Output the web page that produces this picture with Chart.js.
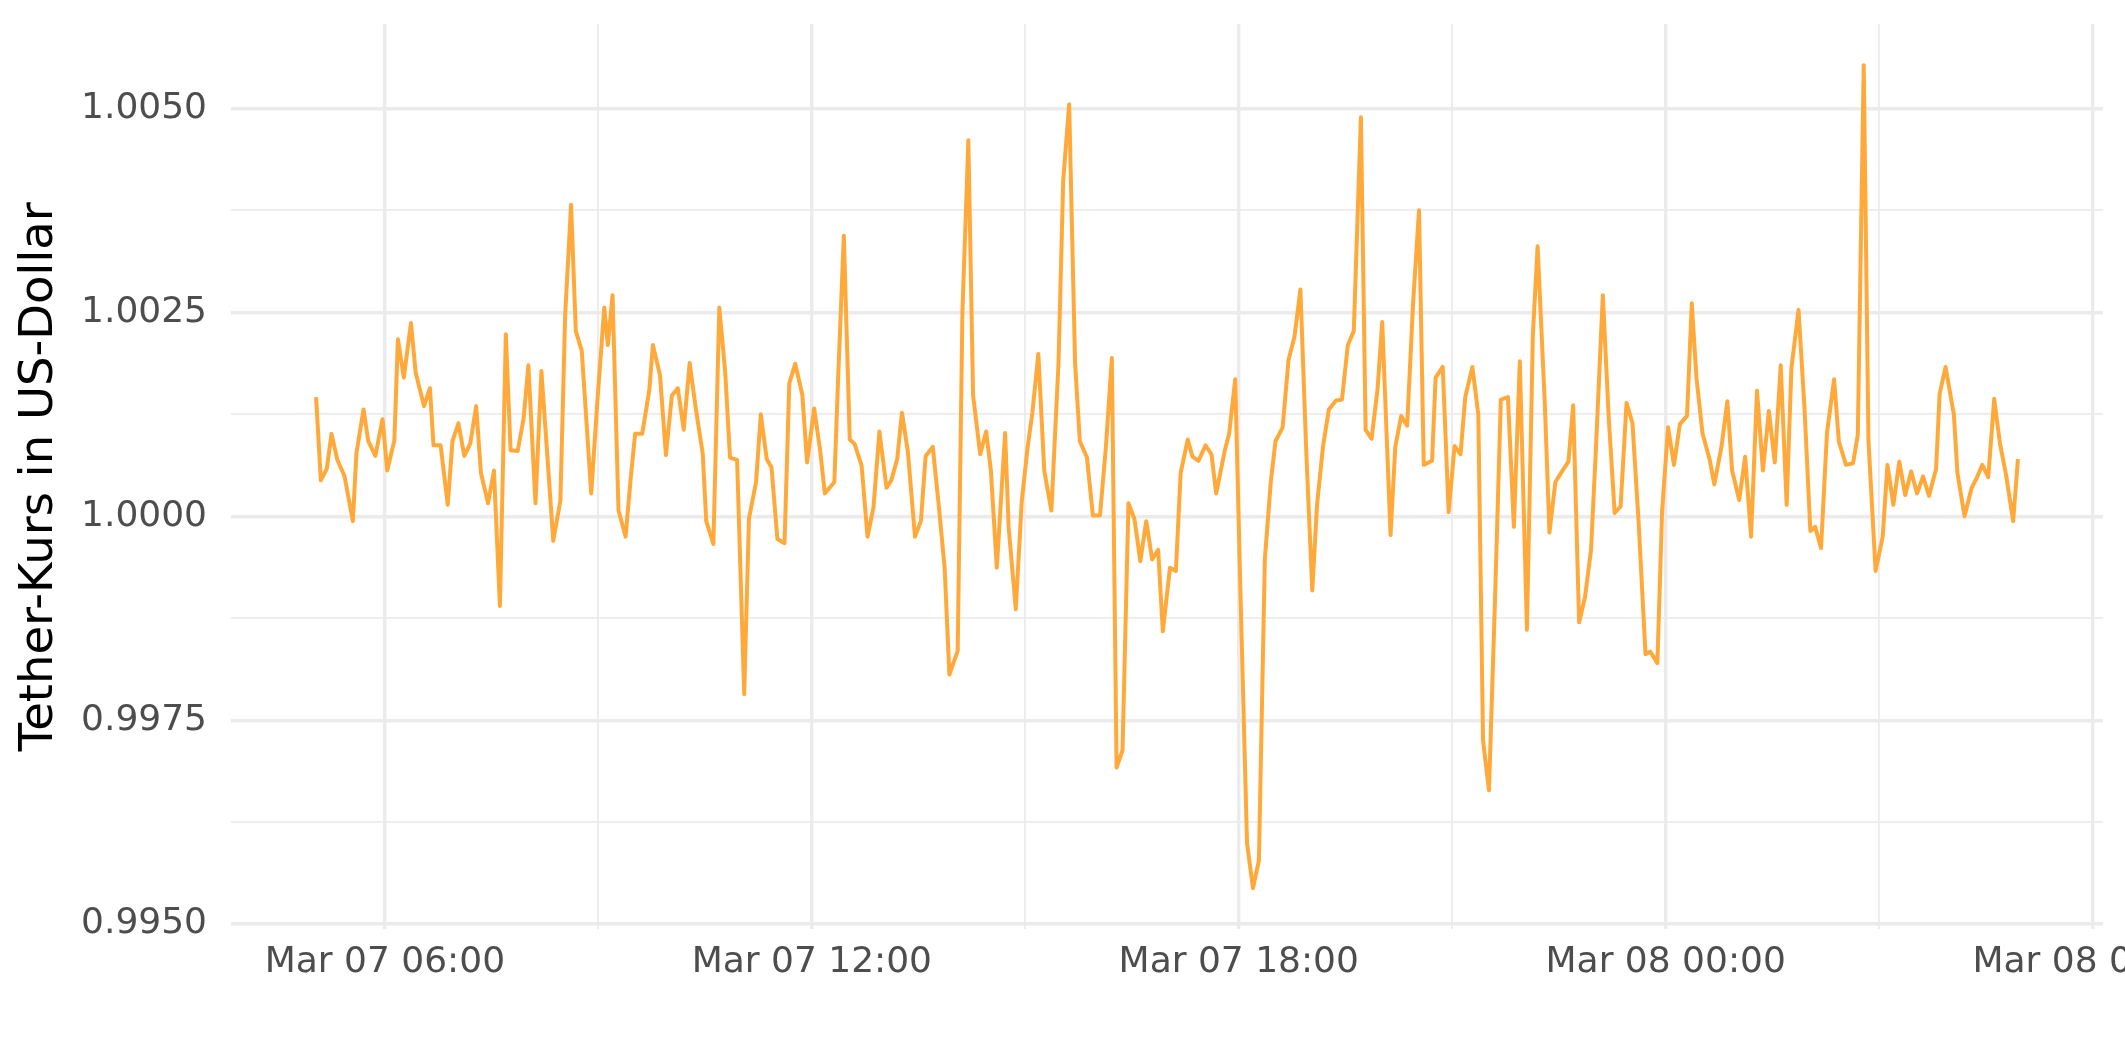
<!DOCTYPE html>
<html><head><meta charset="utf-8">
<script src="https://cdn.jsdelivr.net/npm/chart.js@4.4.1/dist/chart.umd.min.js"></script>
<style>html,body{margin:0;padding:0;background:#fff;overflow:hidden}
#wrap{width:2125px;height:1062px;position:relative;background:#fff}</style></head>
<body><div id="wrap"><canvas id="c" width="2125" height="1062"></canvas></div>
<script>
// minutes after Mar 07 06:00
const minutesSinceStart = [
-58,-54,-49,-45,-40,-34,-27,-24,-18,-14,-8,-2,2,8,11,16,22,26,33,38,41,47,53,57,62,67,72,77,81,87,92,97,102,106,112,117,
121,127,132,142,148,152,157,161,166,174,179,185,188,192,197,203,207,211,217,223,226,232,237,242,247,252,257,262,268,271,277,282,287,291,297,
303,307,313,317,322,326,331,337,341,346,352,356,362,367,371,375,379,382,387,392,396,402,407,412,417,423,427,432,436,441,447,452,456,462,467,472,476,
483,487,492,496,502,507,511,516,523,526,532,537,542,546,551,556,562,568,572,577,582,586,592,597,603,608,613,617,622,627,632,637,642,647,652,656,662,
667,671,677,681,686,692,697,701,708,712,717,722,727,732,737,742,747,751,757,762,767,772,777,782,786,791,796,802,807,812,817,823,827,832,837,841,
848,852,857,862,867,872,876,883,886,892,897,902,907,911,917,922,926,931,936,941,947,952,957,963,968,972,978,982,987,993,998,1002,1007,1012,1017,1021,
1027,1032,1037,1042,1047,1052,1057,1063,1067,1073,1077,1082,1087,1092,1098,1102,1106,1111,1117,1121,1127,1132,1136,1142,1147,1152,1157,1162,1167,1172,1177,1182,1186,1192,1197,1202,
1206,1211,1216,1222,1226,1232,1238,1242,1247,1251,1257,1263,1267,1272,1277,1282,1287,1292,1297,1302,1308,1311,1316,1323,1326,1332,1338,1342,1347,1352,1357,1362,1367,1373,1377
];
const tetherPrice = [
1.00146,1.00044,1.00058,1.00101,1.00069,1.00049,0.99994,1.00077,1.00131,1.00092,1.00074,1.00119,1.00056,1.00093,1.00217,1.00170,1.00237,1.00176,1.00135,1.00157,1.00087,1.00087,1.00014,1.00092,1.00114,1.00074,1.00089,1.00135,1.00053,1.00016,1.00056,0.99890,1.00223,1.00081,1.00080,1.00120,
1.00185,1.00016,1.00178,0.99970,1.00019,1.00246,1.00382,1.00227,1.00203,1.00028,1.00137,1.00256,1.00210,1.00271,1.00007,0.99975,1.00042,1.00101,1.00101,1.00155,1.00210,1.00173,1.00075,1.00148,1.00157,1.00106,1.00188,1.00134,1.00077,0.99994,0.99966,1.00256,1.00176,1.00072,1.00069,
0.99782,0.99997,1.00042,1.00125,1.00070,1.00060,0.99972,0.99967,1.00163,1.00187,1.00149,1.00066,1.00132,1.00081,1.00028,1.00035,1.00042,1.00162,1.00344,1.00094,1.00089,1.00062,0.99975,1.00011,1.00104,1.00035,1.00044,1.00070,1.00127,1.00079,0.99975,0.99994,1.00074,1.00085,1.00014,0.99937,0.99806,
0.99835,1.00250,1.00461,1.00148,1.00076,1.00104,1.00056,0.99937,1.00102,0.99986,0.99886,1.00018,1.00085,1.00127,1.00199,1.00056,1.00007,1.00187,1.00412,1.00505,1.00187,1.00092,1.00072,1.00001,1.00001,1.00085,1.00194,0.99692,0.99713,1.00016,0.99997,0.99945,0.99994,0.99947,0.99959,0.99859,0.99937,
0.99933,1.00053,1.00094,1.00073,1.00068,1.00087,1.00076,1.00028,1.00079,1.00102,1.00168,0.99875,0.99599,0.99544,0.99578,0.99947,1.00042,1.00092,1.00109,1.00192,1.00220,1.00278,1.00077,0.99909,1.00014,1.00085,1.00131,1.00142,1.00143,1.00210,1.00227,1.00489,1.00106,1.00095,1.00155,1.00238,
0.99977,1.00085,1.00123,1.00111,1.00261,1.00375,1.00063,1.00068,1.00170,1.00183,1.00005,1.00086,1.00076,1.00146,1.00183,1.00125,0.99725,0.99664,0.99894,1.00143,1.00146,0.99987,1.00190,0.99861,1.00222,1.00331,1.00141,0.99980,1.00042,1.00056,1.00067,1.00136,0.99870,0.99901,0.99958,1.00077,
1.00271,1.00120,1.00004,1.00012,1.00139,1.00114,0.99997,0.99831,0.99834,0.99820,1.00007,1.00109,1.00063,1.00113,1.00123,1.00261,1.00169,1.00102,1.00070,1.00039,1.00085,1.00141,1.00056,1.00020,1.00073,0.99975,1.00154,1.00056,1.00129,1.00066,1.00185,1.00014,1.00181,1.00253,1.00134,0.99982,
0.99987,0.99961,1.00102,1.00168,1.00092,1.00063,1.00065,1.00100,1.00553,1.00092,0.99933,0.99975,1.00063,1.00014,1.00067,1.00026,1.00055,1.00028,1.00049,1.00025,1.00058,1.00150,1.00183,1.00125,1.00053,1.00000,1.00035,1.00046,1.00063,1.00048,1.00144,1.00088,1.00051,0.99994,1.00070
];
const xMajorTicks = [0, 360, 720, 1080, 1440];
const xTickLabels = ['Mar 07 06:00', 'Mar 07 12:00', 'Mar 07 18:00', 'Mar 08 00:00', 'Mar 08 06:00'];
const xMinorTicks = [180, 540, 900, 1260];
const yMajorTicks = [0.995, 0.9975, 1.0, 1.0025, 1.005];
const yTickLabels = ['0.9950', '0.9975', '1.0000', '1.0025', '1.0050'];
const yMinorTicks = [0.99625, 0.99875, 1.00125, 1.00375];
const yTitle = 'Tether-Kurs in US-Dollar';

const points = minutesSinceStart.map((m, i) => ({x: m, y: tetherPrice[i]}));
const xmin0 = Math.min(...minutesSinceStart), xmax0 = Math.max(...minutesSinceStart);
const ymin0 = Math.min(...tetherPrice), ymax0 = Math.max(...tetherPrice);
const xr = xmax0 - xmin0, yr = ymax0 - ymin0;

const near = (a, b) => Math.abs(a - b) < 1e-9;
function buildTicks(major, minor) {
  return [...major.map(v => ({value: v, major: true})), ...minor.map(v => ({value: v, major: false}))]
    .sort((a, b) => a.value - b.value);
}
const GRID = '#EBEBEB';
const FONT = 'DejaVu Sans';
Chart.defaults.font.family = FONT;

new Chart(document.getElementById('c'), {
  type: 'line',
  data: { datasets: [{
    data: points,
    borderColor: '#FFA93A',
    borderWidth: 4,
    pointRadius: 0,
    fill: false,
    tension: 0,
    borderJoinStyle: 'round'
  }]},
  options: {
    responsive: false,
    animation: false,
    devicePixelRatio: 1,
    layout: { padding: { left: 12, right: 22, top: 24, bottom: 0 } },
    plugins: { legend: { display: false }, tooltip: { enabled: false } },
    scales: {
      x: {
        type: 'linear',
        min: xmin0 - 0.05 * xr,
        max: xmax0 + 0.05 * xr,
        afterBuildTicks: s => { s.ticks = buildTicks(xMajorTicks, xMinorTicks); },
        afterFit: s => { s.paddingRight = 0; s.paddingLeft = 0; s.height = 132.6; },
        border: { display: false },
        grid: {
          color: GRID, drawTicks: false,
          lineWidth: ctx => (ctx.tick && ctx.tick.major) ? 3.4 : 1.8
        },
        ticks: {
          autoSkip: false, maxRotation: 0, minRotation: 0, padding: 12,
          color: '#4D4D4D', font: { size: 36, family: FONT },
          callback: (v) => { const i = xMajorTicks.findIndex(t => near(t, v)); return i >= 0 ? xTickLabels[i] : ''; }
        }
      },
      y: {
        type: 'linear',
        min: ymin0 - 0.05 * yr,
        max: ymax0 + 0.05 * yr,
        afterBuildTicks: s => { s.ticks = buildTicks(yMajorTicks, yMinorTicks); },
        afterFit: s => { s.width = 219; s.paddingTop = 0; s.paddingBottom = 0; },
        border: { display: false },
        grid: {
          color: GRID, drawTicks: false,
          lineWidth: ctx => (ctx.tick && ctx.tick.major) ? 3.4 : 1.8
        },
        ticks: {
          autoSkip: false, padding: 24,
          color: '#4D4D4D', font: { size: 36, family: FONT },
          callback: (v) => { const i = yMajorTicks.findIndex(t => near(t, v)); return i >= 0 ? yTickLabels[i] : ''; }
        },
        title: { display: true, text: yTitle, color: '#000000', font: { size: 46.5, family: FONT }, padding: 0 }
      }
    }
  }
});
</script></body></html>
